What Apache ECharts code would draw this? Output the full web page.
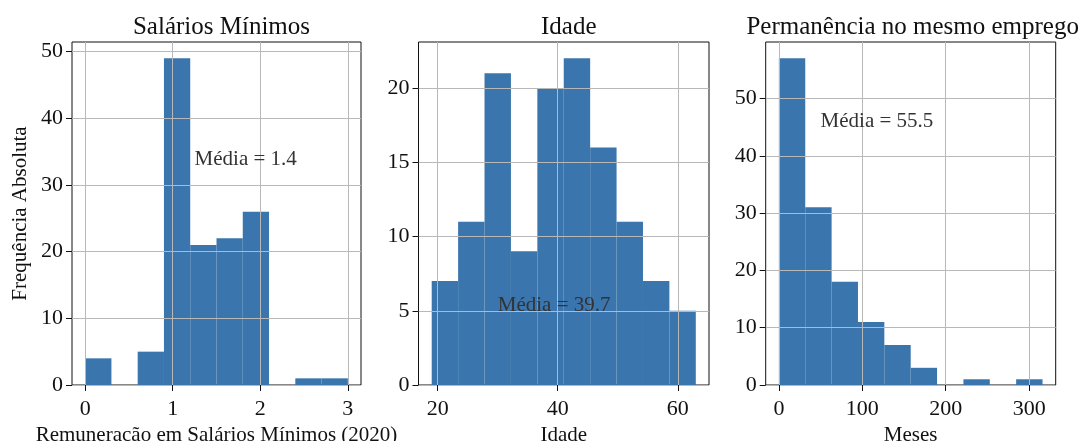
<!DOCTYPE html>
<html>
<head>
<meta charset="utf-8">
<script src="https://cdn.jsdelivr.net/npm/echarts@6/dist/echarts.min.js"></script>
<style>
html,body{margin:0;padding:0;background:#fff;}
#c{width:1082px;height:441px;}
</style>
</head>
<body>
<div id="c"></div>
<script>
// ---- Data ----
const titles = ['Salários Mínimos', 'Idade', 'Permanência no mesmo emprego'];
const xNames = ['Remuneração em Salários Mínimos (2020)', 'Idade', 'Meses'];
const yName = 'Frequência Absoluta';

const salarioEdges = [0, 0.3, 0.6, 0.9, 1.2, 1.5, 1.8, 2.1, 2.4, 2.7, 3.0];
const salarioCounts = [4, 0, 5, 49, 21, 22, 26, 0, 1, 1];
const idadeEdges = [19, 23.4, 27.8, 32.2, 36.6, 41, 45.4, 49.8, 54.2, 58.6, 63];
const idadeCounts = [7, 11, 21, 9, 20, 22, 16, 11, 7, 5];
const mesesEdges = [0, 31.6, 63.2, 94.8, 126.4, 158, 189.6, 221.2, 252.8, 284.4, 316];
const mesesCounts = [57, 31, 18, 11, 7, 3, 0, 1, 0, 1];

const xTicks = [[0, 1, 2, 3], [20, 40, 60], [0, 100, 200, 300]];
const yTicks = [[0, 10, 20, 30, 40, 50], [0, 5, 10, 15, 20], [0, 10, 20, 30, 40, 50]];

const meanLabels = ['Média = 1.4', 'Média = 39.7', 'Média = 55.5'];
const meanPos = [[1.25, 33], [30, 5], [50, 45]];

// ---- Build ----
const hists = [[salarioEdges, salarioCounts], [idadeEdges, idadeCounts], [mesesEdges, mesesCounts]];
const FONT = '"Liberation Serif", "DejaVu Serif", serif';
const BAR = '#3a75ad';
const grids = [
  {left: 72, top: 42, width: 289, height: 343},
  {left: 418.5, top: 42, width: 290.5, height: 343},
  {left: 765.7, top: 42, width: 290, height: 343}
];

function range(edges, counts) {
  const lo = edges[0], hi = edges[edges.length - 1], w = hi - lo;
  return {xmin: lo - 0.05 * w, xmax: hi + 0.05 * w, ymax: Math.max(...counts) * 1.05};
}

const xAxis = [], yAxis = [], series = [], title = [];
hists.forEach((h, i) => {
  const r = range(h[0], h[1]);
  const g = grids[i];
  title.push({
    text: titles[i], left: g.left + g.width / 2 - (i === 2 ? 3 : 0), top: 10, textAlign: 'center',
    textStyle: {fontFamily: FONT, fontSize: 25, fontWeight: 'normal', color: '#111'}
  });
  xAxis.push({
    type: 'value', gridIndex: i, min: r.xmin, max: r.xmax, z: 3,
    name: xNames[i], nameLocation: 'middle', nameGap: 36,
    nameTextStyle: {fontFamily: FONT, fontSize: 21, color: '#111'},
    axisLine: {show: false, onZero: false},
    axisTick: {show: true, inside: false, length: 6, customValues: xTicks[i], lineStyle: {color: '#111'}},
    axisLabel: {customValues: xTicks[i], fontFamily: FONT, fontSize: 22, color: '#111', margin: 13},
    splitLine: {show: true, lineStyle: {color: '#b8b8b8', width: 1}}
  });
  yAxis.push({
    type: 'value', gridIndex: i, min: 0, max: r.ymax, z: 3,
    name: i === 0 ? yName : '', nameLocation: 'middle', nameGap: 41,
    nameTextStyle: {fontFamily: FONT, fontSize: 21, color: '#111'},
    axisLine: {show: false, onZero: false},
    axisTick: {show: true, inside: false, length: 6, customValues: yTicks[i], lineStyle: {color: '#111'}},
    axisLabel: {customValues: yTicks[i], fontFamily: FONT, fontSize: 22, color: '#111', margin: 9},
    splitLine: {show: true, lineStyle: {color: '#b8b8b8', width: 1}}
  });
  const data = h[1].map((c, k) => [h[0][k], h[0][k + 1], c]);
  series.push({
    type: 'custom', xAxisIndex: i, yAxisIndex: i, z: 1,
    data: data,
    renderItem: function (params, api) {
      const p0 = api.coord([api.value(0), 0]);
      const p1 = api.coord([api.value(1), api.value(2)]);
      return {
        type: 'rect',
        shape: {x: p0[0], y: p1[1], width: p1[0] - p0[0], height: p0[1] - p1[1]},
        style: {fill: BAR}
      };
    }
  });
  series.push({
    type: 'custom', xAxisIndex: i, yAxisIndex: i, z: 5,
    data: [[meanPos[i][0], meanPos[i][1]]],
    renderItem: function (params, api) {
      const p = api.coord([api.value(0), api.value(1)]);
      return {
        type: 'text', z2: 10,
        style: {text: meanLabels[i], x: p[0], y: p[1] + 5, align: 'left', verticalAlign: 'bottom',
          fill: '#333', font: '21px ' + FONT}
      };
    }
  });
});

const chart = echarts.init(document.getElementById('c'), null, {renderer: 'canvas'});
chart.setOption({
  animation: false,
  backgroundColor: '#fff',
  title: title,
  grid: grids.map(g => Object.assign({show: true, borderColor: '#111', borderWidth: 1, backgroundColor: 'transparent', containLabel: false, outerBoundsMode: 'none'}, g)),
  xAxis: xAxis,
  yAxis: yAxis,
  series: series
});
</script>
</body>
</html>
